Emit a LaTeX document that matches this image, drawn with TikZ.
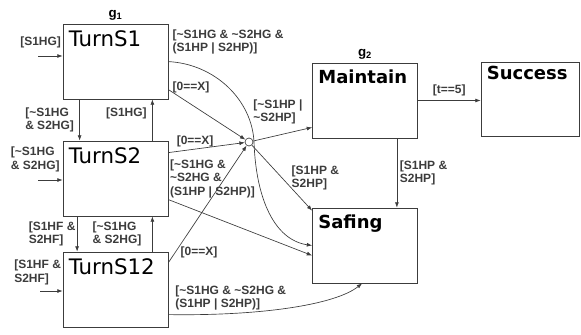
\documentclass[tikz,border=0pt]{standalone}
\usepackage{fontspec}
\setmainfont{Liberation Sans}
\newfontfamily\titlefont{DejaVu Sans}
\usetikzlibrary{calc,positioning,arrows.meta}
\definecolor{myline}{RGB}{60,60,60}

\begin{document}
\begin{tikzpicture}[x=0.75pt, y=-0.75pt,
  box/.style={draw=myline, line width=0.6pt, minimum width=78.75pt, minimum height=56.25pt, inner sep=0pt},
  title/.style={anchor=north west, inner sep=0pt, xshift=4.5pt, yshift=-5.25pt, font=\titlefont\fontsize{16}{16}\selectfont},
  btitle/.style={title, font=\titlefont\bfseries\fontsize{13.5}{14}\selectfont},
  lbl/.style={font=\bfseries\fontsize{9}{10}\selectfont, align=left, inner sep=1pt},
  arr/.style={-{Latex[length=4pt,width=3pt]}, myline, line width=0.5pt}]
  \useasboundingbox (0,0) rectangle (581,335);

  % states
  \node[box] (s1) at (115.5,61.5) {};
  \node[box] (s2) at (115.5,178.5) {};
  \node[box] (s12) at (115.5,289.5) {};
  \node[box] (mt) at (365,100.5) {};
  \node[box] (sf) at (365,245.5) {};
  \node[box, minimum width=73.5pt, minimum height=55.5pt] (sc) at (530,99) {};
  \node[title] (s1t) at (s1.north west) {TurnS1};
  \node[title] (s2t) at (s2.north west) {TurnS2};
  \node[title] (s12t) at (s12.north west) {TurnS12};
  \node[btitle] (mtt) at (mt.north west) {Maintain};
  \node[btitle] (sft) at (sf.north west) {Safing};
  \node[btitle, yshift=2pt] (sct) at (sc.north west) {Success};
  \node[lbl, font=\bfseries\fontsize{10}{10}\selectfont, above=1pt of s1] (g1) {g\textsubscript{1}};
  \node[lbl, font=\bfseries\fontsize{10}{10}\selectfont, above=1pt of mt] (g2) {g\textsubscript{2}};

  % junction
  \node[circle, draw=myline, line width=0.5pt, minimum size=6pt, inner sep=0pt] (j) at (249,142) {};

  % entry arrows
  \coordinate (in1) at (38,56);
  \coordinate (in2) at (38,180);
  \coordinate (in3) at (40,291);
  \draw[arr] (in1) -- (in1 -| s1.west) node[lbl, pos=1, anchor=south east, yshift=5pt] {[S1HG]};
  \draw[arr] (in2) -- (in2 -| s2.west) node[lbl, pos=1, anchor=south east, yshift=5pt, xshift=-1pt] {[\textasciitilde S1HG\\\& S2HG]};
  \draw[arr] (in3) -- (in3 -| s12.west) node[lbl, pos=1, anchor=south east, yshift=3.5pt] {[S1HF \&\\S2HF]};

  % between the Turn states
  \draw[arr] ($(s1.south west)+(17,0)$) -- ($(s2.north west)+(17,0)$) node[lbl, midway, left, xshift=-3pt] {[\textasciitilde S1HG\\\& S2HG]};
  \draw[arr] ($(s2.north east)+(-16,0)$) -- ($(s1.south east)+(-16,0)$) node[lbl, pos=0.65, left, xshift=-3pt] {[S1HG]};
  \draw[arr] ($(s2.south west)+(14.5,0)$) -- ($(s12.north west)+(14.5,0)$) node[lbl, midway, left] {[S1HF \&\\S2HF]};
  \draw[arr] ($(s12.north east)+(-16,0)$) -- ($(s2.south east)+(-16,0)$) node[lbl, midway, left, xshift=-7pt] {[\textasciitilde S1HG\\\& S2HG]};

  % into the junction
  \draw[arr] ($(s1.north east)+(0,66)$) node[lbl, anchor=west, xshift=2pt, yshift=1.5pt] {[0==X]} -- (j);
  \draw[arr] ($(s2.north east)+(0,12)$) -- (j) node[lbl, pos=0.35, above] {[0==X]};
  \draw[arr] ($(s12.north east)+(0,11)$) node[lbl, anchor=south west, xshift=8pt, yshift=2pt] {[0==X]} -- (j);

  % to Safing
  \draw[arr] ($(s1.north east)+(0,38)$) node[lbl, anchor=south west, xshift=2pt, yshift=4pt] {[\textasciitilde S1HG \& \textasciitilde S2HG \&\\(S1HP | S2HP)]}
    .. controls (215,64) and (252,100) .. (254,142) .. controls (256,200) and (275,240) .. (sf.west);
  \draw[arr] ($(s2.north east)+(0,59)$) node[lbl, anchor=south west] {[\textasciitilde S1HG \&\\\textasciitilde S2HG \&\\(S1HP | S2HP)]} -- ($(sf.west)+(0,10)$);
  \draw[arr] ($(s12.north east)+(0,63)$) node[lbl, anchor=south west, xshift=4pt, yshift=2pt] {[\textasciitilde S1HG \& \textasciitilde S2HG \&\\(S1HP | S2HP)]}
    .. controls (260,316) and (335,305) .. ($(sf.south west)+(50,0)$);

  % out of the junction
  \draw[arr] (j) -- ($(mt.south west)+(0,-11)$) node[lbl, pos=1, anchor=south east, xshift=-6pt, yshift=1pt] {[\textasciitilde S1HP |\\\textasciitilde S2HP]};
  \draw[arr] (j) -- ($(sf.north west)+(0,3)$) node[lbl, pos=0.5, anchor=west, xshift=6pt] {[S1HP \&\\S2HP]};

  % from Maintain
  \draw[arr] ($(mt.south east)+(-21,0)$) -- ($(sf.north east)+(-21,0)$) node[lbl, midway, right, xshift=1pt] {[S1HP \&\\S2HP]};
  \draw[arr] (mt.east) -- (mt.east -| sc.west) node[lbl, midway, above, yshift=2pt] {[t==5]};
\end{tikzpicture}
\end{document}
